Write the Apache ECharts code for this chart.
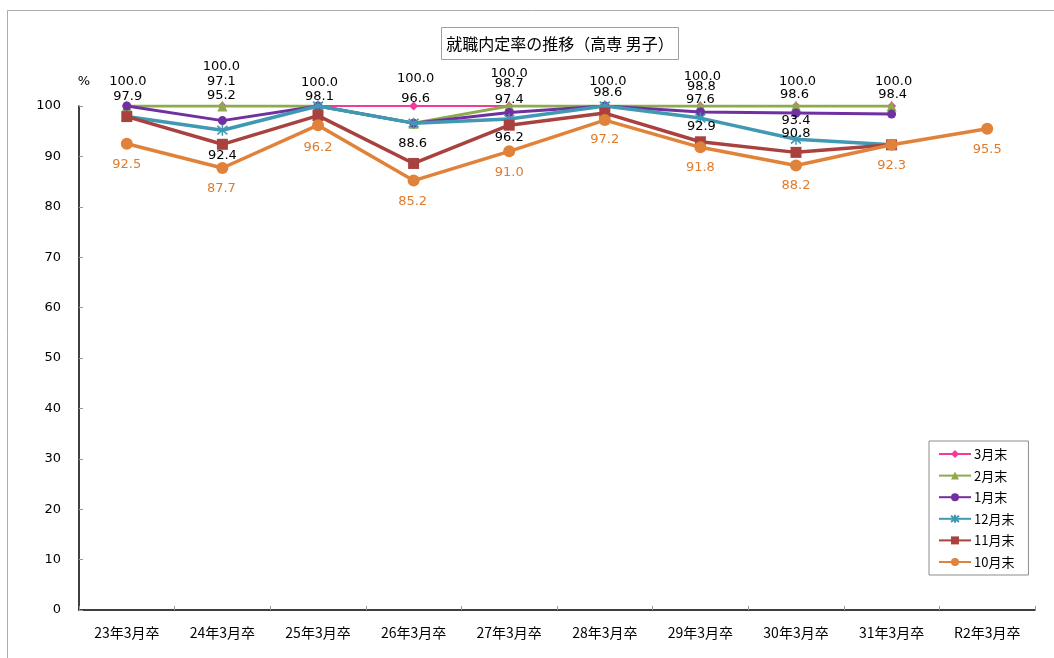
<!DOCTYPE html>
<html>
<head>
<meta charset="utf-8">
<script src="https://cdn.jsdelivr.net/npm/echarts@6/dist/echarts.min.js"></script>
<style>html,body{margin:0;padding:0;background:#fff;}#c{width:1054px;height:658px;}</style>
</head>
<body>
<div id="c"></div>
<script>
const categories = ['23年3月卒','24年3月卒','25年3月卒','26年3月卒','27年3月卒','28年3月卒','29年3月卒','30年3月卒','31年3月卒','R2年3月卒'];
const seriesNames = ['3月末','2月末','1月末','12月末','11月末','10月末'];
const mar = [100,100,100,100,100,100,100,100,100,null];
const feb = [100,100,100,96.6,100,100,100,100,100,null];
const jan = [100,97.1,100,96.6,98.7,100,98.8,98.6,98.4,null];
const dec = [97.9,95.2,100,96.6,97.4,100,97.6,93.4,92.3,null];
const nov = [97.9,92.4,98.1,88.6,96.2,98.6,92.9,90.8,92.3,null];
const oct = [92.5,87.7,96.2,85.2,91.0,97.2,91.8,88.2,92.3,95.5];
const yTicks = [0,10,20,30,40,50,60,70,80,90,100];

// label placement (pixel offsets from each point), null = no label
const labelOffsets = [
  [[1,-24],[-1,-39],[1.5,-23],[2,-27],[0,-32],[3,-24],[2,-29],[1.5,-24],[2,-24],null],
  [null,null,null,null,null,null,null,null,null,null],
  [null,[-1,-38.6],null,null,[0,-28.6],null,[1,-25],[-1.5,-18],[1,-19],null],
  [[1,-19.6],[-1,-35],null,[2,-25],[0,-19],null,[0,-18],[0,-19],null,null],
  [null,[0,11],[1.5,-18.6],[-1,-19.5],[0,12],[3,-20],[1,-15],[0,-19],null,null],
  [[0,21],[-1,21],[0,22],[-1,21.4],[0,21.6],[0,20],[0,20],[0,20.5],[0,21],[0,21]]
];

const values = [mar, feb, jan, dec, nov, oct];
const colors = ['#F5399A','#8DAA4E','#7030A0','#4099B3','#A9423F','#E1823B'];
const symbols = ['diamond','triangle','circle','path://M0,0L10,10M10,0L0,10M5,-1.5L5,11.5','rect','circle'];
const symbolSizes = [9,[10,11],9,[10,11],11,12];
const lineWidths = [1.8,3,3,3.5,3.5,3.5];
const labelColors = ['#000','#000','#000','#000','#000','#E07B2C'];

const series = seriesNames.map((name, si) => ({
  name: name,
  type: 'line',
  symbol: symbols[si],
  symbolSize: symbolSizes[si],
  showAllSymbol: true,
  connectNulls: false,
  lineStyle: {color: colors[si], width: lineWidths[si]},
  itemStyle: si === 3
    ? {color: colors[si], borderColor: colors[si], borderWidth: 1.6}
    : {color: colors[si], borderWidth: 0},
  emphasis: {disabled: true},
  z: 2 + si,
  data: values[si].map((v, i) => {
    const off = labelOffsets[si][i];
    if (v === null) return null;
    return {
      value: v,
      label: off ? {
        show: true, position: 'inside', offset: off,
        formatter: (p) => p.value.toFixed(1),
        color: labelColors[si], fontSize: 13, fontFamily: 'DejaVu Sans'
      } : {show: false}
    };
  })
}));

const chart = echarts.init(document.getElementById('c'), null, {renderer: 'canvas'});
chart.setOption({
  animation: false,
  backgroundColor: '#fff',
  color: colors,
  grid: {left: 79, right: 19, top: 106, bottom: 48},
  xAxis: {
    type: 'category',
    data: categories,
    boundaryGap: true,
    axisLine: {lineStyle: {color: '#000', width: 1.5}},
    axisTick: {show: true, inside: true, length: 4, interval: 0, lineStyle: {color: '#999'}},
    axisLabel: {color: '#000', fontSize: 14, fontFamily: 'Noto Sans CJK JP', margin: 16, interval: 0}
  },
  yAxis: {
    type: 'value',
    min: yTicks[0], max: yTicks[yTicks.length - 1], interval: 10,
    axisLine: {show: true, lineStyle: {color: '#000', width: 1.5}},
    axisTick: {show: true, inside: true, length: 4, lineStyle: {color: '#999'}},
    splitLine: {show: false},
    axisLabel: {color: '#000', fontSize: 13, fontFamily: 'DejaVu Sans', margin: 18}
  },
  legend: {
    orient: 'vertical',
    left: 929, top: 441,
    data: seriesNames,
    itemWidth: 32, itemHeight: 10, itemGap: 7.6,
    padding: [6, 14, 6, 9],
    borderColor: '#8c8c8c', borderWidth: 1,
    textStyle: {color: '#000', fontSize: 13, fontFamily: 'Noto Sans CJK JP', lineHeight: 14, padding: [0,0,0,-2]}
  },
  graphic: [
    {type: 'rect', left: 5, top: 8, shape: {x: 0.5, y: 0.5, width: 1200, height: 800}, style: {fill: 'none', stroke: '#ababab', lineWidth: 1}, silent: true, z: -1},
    {type: 'rect', shape: {x: 441.5, y: 27.5, width: 237, height: 32}, style: {fill: '#fff', stroke: '#a0a0a0', lineWidth: 1}, silent: true},
    {type: 'text', x: 560, y: 44, style: {text: '就職内定率の推移（高専 男子）', fill: '#000', font: '16px "Noto Sans CJK JP"', textAlign: 'center', textVerticalAlign: 'middle'}, silent: true},
    {type: 'text', x: 84, y: 82, style: {text: '%', fill: '#000', font: '13px "DejaVu Sans"', textAlign: 'center', textVerticalAlign: 'middle'}, silent: true}
  ],
  series: series
});
</script>
</body>
</html>
